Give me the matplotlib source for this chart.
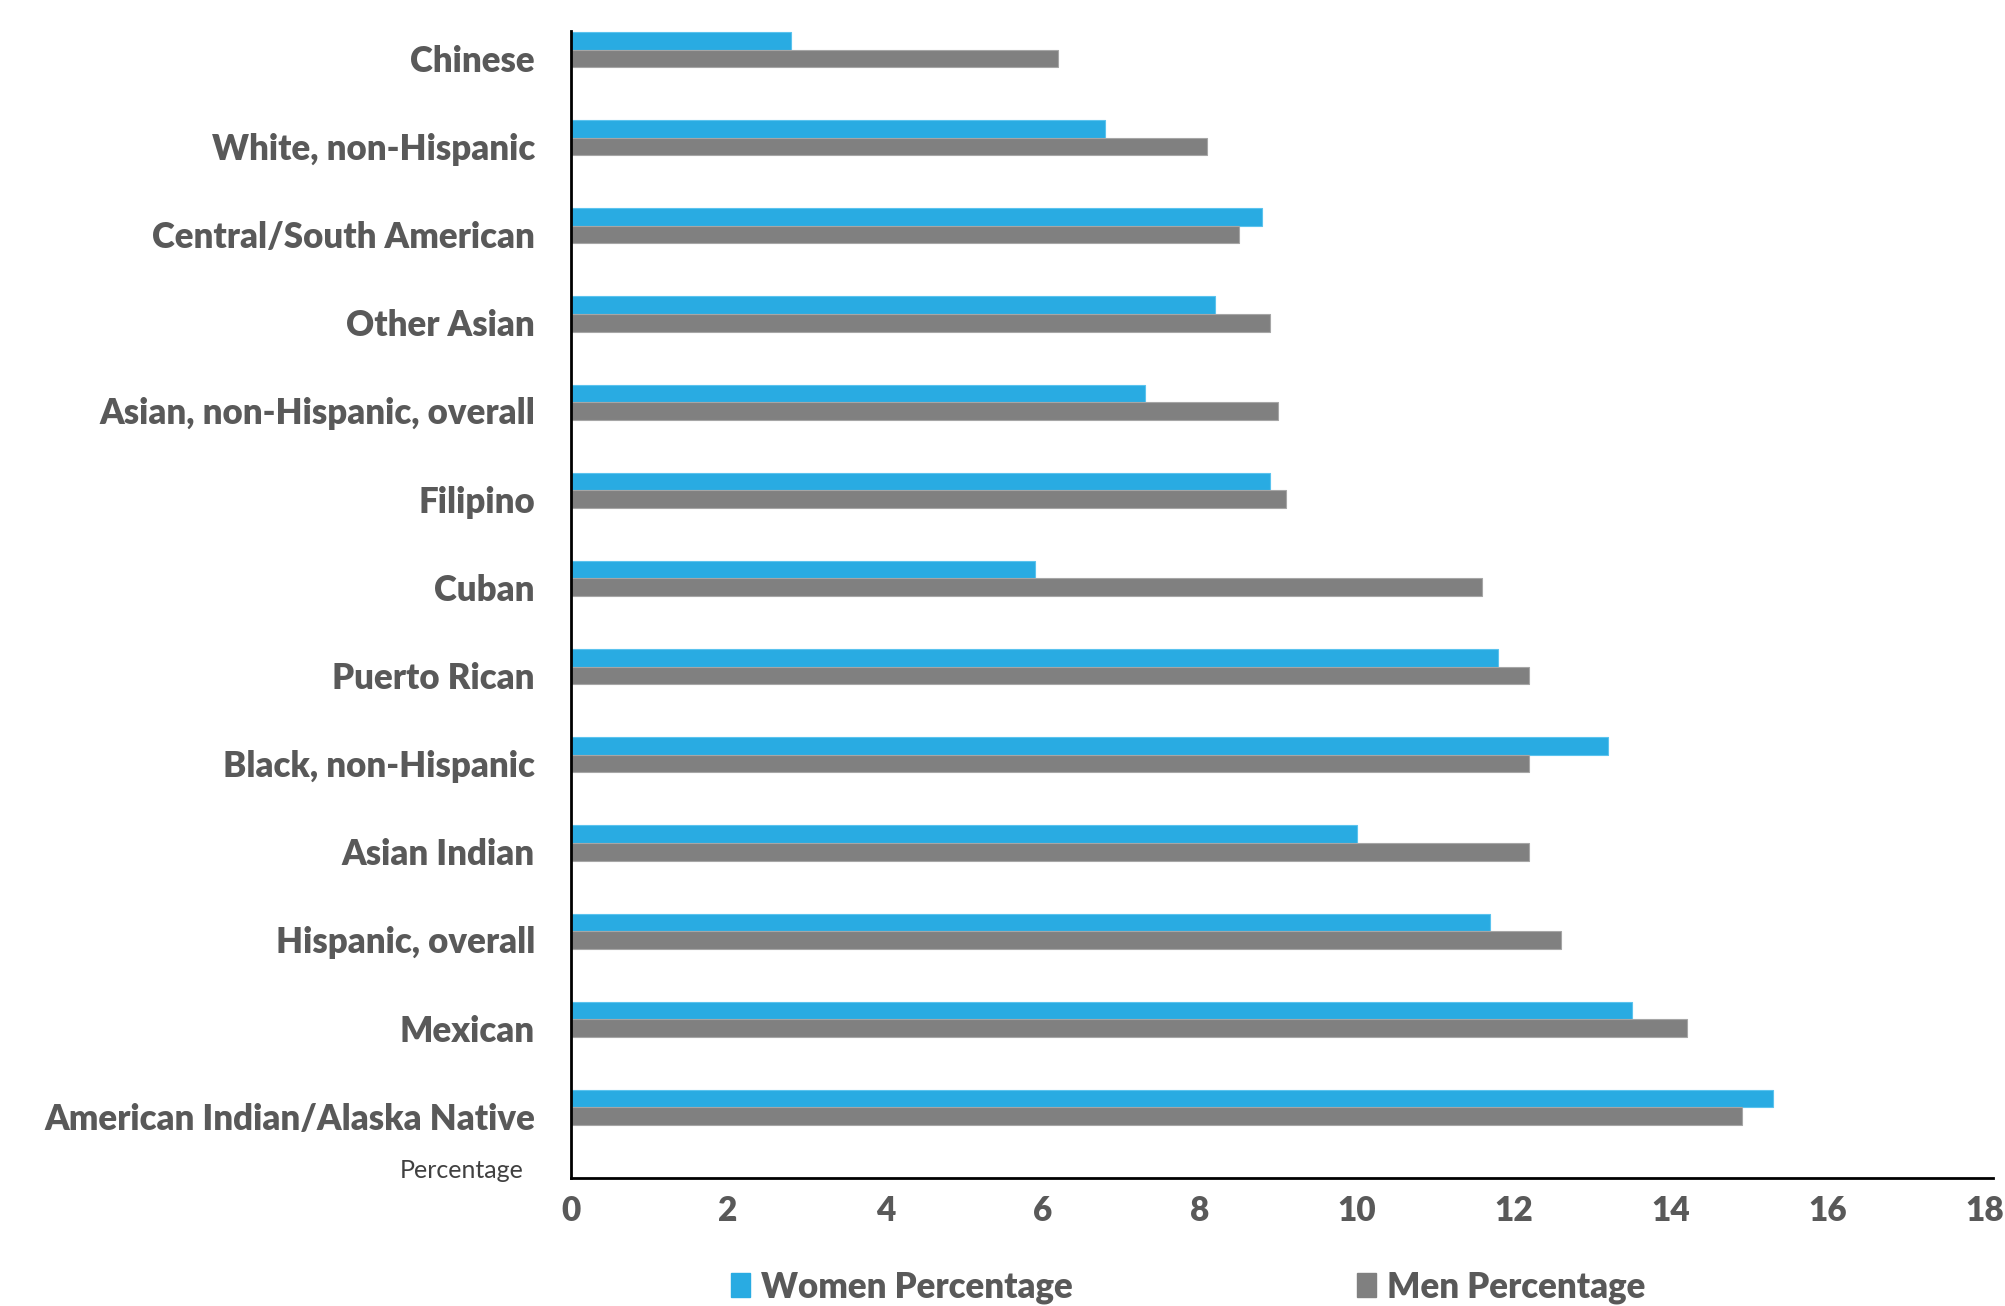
import numpy as np
from matplotlib import pyplot as plt
from matplotlib.patches import Patch

# groups listed bottom to top
groups = ["American Indian/Alaska Native", "Mexican", "Hispanic, overall", "Asian Indian",
          "Black, non-Hispanic", "Puerto Rican", "Cuban", "Filipino",
          "Asian, non-Hispanic, overall", "Other Asian", "Central/South American",
          "White, non-Hispanic", "Chinese"]
women = [15.3, 13.5, 11.7, 10.0, 13.2, 11.8, 5.9, 8.9, 7.3, 8.2, 8.8, 6.8, 2.8]
men = [14.9, 14.2, 12.6, 12.2, 12.2, 12.2, 11.6, 9.1, 9.0, 8.9, 8.5, 8.1, 6.2]
xticks = [0, 2, 4, 6, 8, 10, 12, 14, 16, 18]

blue = "#29abe2"
grey = "#808080"
text_grey = "#595959"

fig = plt.figure(figsize=(20.05, 13.06), dpi=100)
ax = fig.add_axes([571 / 2005, 1 - 1178 / 1306, (1993 - 571) / 2005, (1178 - 31) / 1306])

y = np.arange(len(groups))
h = 0.2
ax.barh(y + h, women, height=h, color=blue, edgecolor="#5bc3ee", linewidth=0.8, label="Women Percentage")
ax.barh(y, men, height=h, color=grey, edgecolor="#a6a6a6", linewidth=0.8, label="Men Percentage")

ax.set_xlim(0, 18.1)
ax.set_ylim(-0.7, 12.31)
ax.set_xticks(xticks)
ax.set_xticklabels([str(t) for t in xticks])
ax.set_yticks(y)
ax.set_yticklabels(groups)

for s in ["top", "right"]:
    ax.spines[s].set_visible(False)
for s in ["left", "bottom"]:
    ax.spines[s].set_linewidth(2)
    ax.spines[s].set_color("black")

ax.tick_params(axis="x", length=0, pad=12, labelsize=24, labelcolor=text_grey)
ax.tick_params(axis="y", length=0, pad=26, labelsize=25, labelcolor=text_grey)
for lbl in ax.get_xticklabels() + ax.get_yticklabels():
    lbl.set_fontfamily("Lato")
    lbl.set_fontweight("heavy")

fig.text(524 / 2005, 1 - 1170 / 1306, "Percentage", ha="right", va="center",
         fontsize=18, fontfamily="Lato", fontweight="normal", color="#404040")

handles = [Patch(color=blue), Patch(color=grey)]
leg = fig.legend(handles, ["Women Percentage", "Men Percentage"], ncol=2,
                 loc="center left", bbox_to_anchor=(700 / 2005, 1 - 1287 / 1306),
                 frameon=False, handlelength=0.55, handleheight=0.7, handletextpad=0.3,
                 columnspacing=8.2,
                 prop={"family": "Lato", "weight": "heavy", "size": 25})
for t in leg.get_texts():
    t.set_color(text_grey)

fig.savefig("out.png", dpi=100)
